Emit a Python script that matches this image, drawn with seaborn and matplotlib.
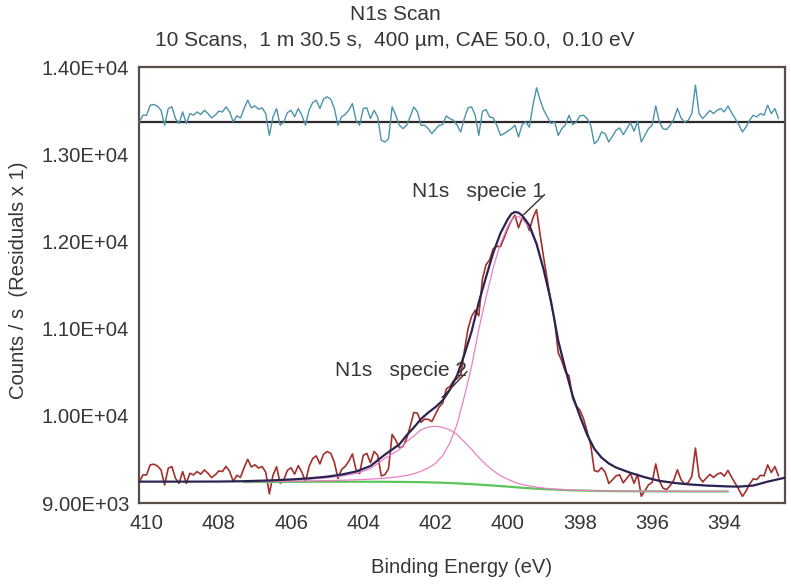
import numpy as np
import pandas as pd
import matplotlib
matplotlib.use("Agg")
import matplotlib.pyplot as plt
from matplotlib.ticker import MultipleLocator, FuncFormatter
import seaborn as sns

# ---------------- data ----------------
title_line1 = "N1s Scan"
title_line2 = "10 Scans,  1 m 30.5 s,  400 \u00b5m, CAE 50.0,  0.10 eV"
x_label = "Binding Energy (eV)"
y_label = "Counts / s  (Residuals x 1)"
x_ticks = [410, 408, 406, 404, 402, 400, 398, 396, 394]
y_ticks = [9000, 10000, 11000, 12000, 13000, 14000]
peak_labels = ["N1s   specie 1", "N1s   specie 2"]

# raw spectrum, 0.1 eV steps from 410.2 eV down to 392.5 eV
raw_be = np.linspace(410.2, 392.5, 178)
raw_counts = [
    9245, 9322, 9322, 9437, 9445, 9425, 9379, 9207, 9399, 9418,
    9283, 9226, 9360, 9226, 9341, 9322, 9360, 9330, 9379, 9341,
    9291, 9322, 9368, 9361, 9420, 9362, 9248, 9317, 9295, 9404,
    9501, 9413, 9438, 9401, 9417, 9353, 9105, 9318, 9416, 9226,
    9266, 9375, 9404, 9331, 9429, 9355, 9242, 9417, 9510, 9540,
    9448, 9559, 9590, 9569, 9468, 9282, 9384, 9420, 9478, 9563,
    9380, 9339, 9547, 9569, 9462, 9591, 9548, 9311, 9325, 9392,
    9787, 9720, 9634, 9647, 9738, 9878, 10038, 10030, 9926, 9962,
    9960, 9934, 10016, 10100, 10146, 10307, 10337, 10401, 10427, 10468,
    10741, 10994, 11139, 11210, 11147, 11568, 11732, 11788, 11916, 11944,
    11940, 12039, 12146, 12238, 12300, 12156, 12267, 12241, 12125, 12270,
    12364, 12071, 11805, 11550, 11294, 11095, 10723, 10628, 10502, 10458,
    10198, 10112, 10065, 9967, 9822, 9664, 9371, 9359, 9405, 9353,
    9224, 9265, 9311, 9323, 9231, 9284, 9338, 9226, 9328, 9078,
    9141, 9208, 9236, 9448, 9254, 9171, 9154, 9199, 9262, 9381,
    9268, 9218, 9233, 9307, 9630, 9302, 9241, 9285, 9329, 9293,
    9329, 9347, 9307, 9374, 9296, 9227, 9157, 9076, 9136, 9216,
    9277, 9269, 9318, 9311, 9437, 9350, 9418, 9311,
]
residuals = [
    0, 77, 77, 192, 200, 180, 134, -38, 154, 173,
    38, -19, 115, -19, 96, 77, 115, 85, 134, 96,
    46, 77, 123, 115, 173, 115, 0, 69, 46, 154,
    250, 161, 184, 146, 161, 96, -154, 58, 154, -38,
    0, 107, 134, 58, 154, 77, -38, 134, 223, 250,
    154, 261, 288, 261, 154, -38, 58, 85, 134, 211,
    19, -38, 154, 161, 38, 134, 58, -211, -230, -192,
    173, 77, -38, -77, -38, 58, 173, 115, -38, -38,
    -77, -134, -84, -38, -31, 69, 38, 19, -38, -115,
    40, 161, 173, 77, -154, 123, 142, 58, 46, -38,
    -154, -134, -107, -77, -38, -173, -31, 0, -60, 192,
    392, 250, 134, 58, -19, 0, -154, -77, -31, 77,
    -31, 0, 69, 77, 38, -38, -250, -211, -115, -134,
    -230, -165, -96, -69, -146, -77, -8, -107, 8, -230,
    -154, -77, -38, 184, 0, -77, -88, -38, 31, 154,
    46, 0, 19, 96, 422, 96, 38, 85, 131, 96,
    134, 154, 115, 184, 107, 38, -31, -115, -58, 19,
    77, 58, 96, 77, 192, 96, 154, 38,
]

# fitted envelope
fit_be = [410.2, 409.0, 408.0, 407.3, 406.5, 406.0, 405.5, 405.0, 404.6, 404.2,
          403.8, 403.4, 403.0, 402.8, 402.6, 402.4, 402.2, 402.0, 401.8, 401.6,
          401.4, 401.2, 401.0, 400.8, 400.6, 400.4, 400.2, 400.0, 399.9, 399.8,
          399.7, 399.6, 399.4, 399.2, 399.0, 398.8, 398.6, 398.4, 398.2, 398.0,
          397.8, 397.6, 397.4, 397.2, 397.0, 396.6, 396.2, 395.8, 395.4, 395.0,
          394.5, 393.9, 393.6, 393.2, 392.8, 392.3]
envelope = [9245, 9245, 9246, 9250, 9260, 9270, 9283, 9302, 9326, 9361,
            9424, 9555, 9672, 9776, 9865, 9964, 10037, 10100, 10177, 10299,
            10465, 10701, 10966, 11301, 11590, 11870, 12094, 12253, 12315, 12338,
            12329, 12298, 12185, 11972, 11671, 11313, 10860, 10533, 10229, 9996,
            9784, 9621, 9520, 9454, 9407, 9346, 9295, 9254, 9231, 9214,
            9200, 9190, 9188, 9200, 9245, 9292]

# fit region: Shirley background and the two component heights above it
region_be = [407.3, 406.5, 406.0, 405.5, 405.0, 404.6, 404.2,
             403.8, 403.4, 403.0, 402.8, 402.6, 402.4, 402.2, 402.0, 401.8, 401.6,
             401.4, 401.2, 401.0, 400.8, 400.6, 400.4, 400.2, 400.0, 399.9, 399.8,
             399.7, 399.6, 399.4, 399.2, 399.0, 398.8, 398.6, 398.4, 398.2, 398.0,
             397.8, 397.6, 397.4, 397.2, 397.0, 396.6, 396.2, 395.8, 395.4, 395.0,
             394.5, 393.9]
background = [9240, 9242, 9243, 9244, 9244, 9244, 9244,
              9244, 9243, 9242, 9241, 9240, 9239, 9237, 9235, 9232, 9229,
              9225, 9221, 9216, 9211, 9205, 9200, 9194, 9188, 9185, 9181,
              9178, 9175, 9169, 9164, 9159, 9155, 9151, 9148, 9145, 9143,
              9141, 9139, 9138, 9137, 9136, 9135, 9134, 9133, 9133, 9132,
              9132, 9132]
specie1_height = [3, 5, 7, 9, 13, 17, 22,
                  30, 42, 60, 75, 95, 125, 165, 220, 310, 460,
                  680, 1000, 1350, 1780, 2150, 2500, 2780, 2980, 3060, 3100,
                  3105, 3085, 2990, 2790, 2500, 2150, 1720, 1380, 1080, 850,
                  640, 480, 380, 315, 270, 210, 160, 120, 98, 82,
                  68, 58]
specie2_height = [7, 13, 20, 30, 45, 65, 95,
                  150, 270, 370, 460, 530, 600, 635, 645, 635, 610,
                  560, 480, 400, 310, 235, 170, 120, 85, 70, 57,
                  46, 38, 26, 18, 12, 8, 6, 5, 4, 3,
                  3, 2, 2, 2, 1, 1, 1, 1, 1, 1,
                  1, 1]

# ---------------- styling ----------------
W, H, DPI = 791, 587, 100
RESID_OFFSET = 13370
TXT = "#3a3535"
SPINE = "#5a4d48"
FS = 14.6

sns.set_style("white")
plt.rcParams["font.family"] = ["Liberation Sans", "DejaVu Sans"]

fig = plt.figure(figsize=(W / DPI, H / DPI), dpi=DPI)
ax = fig.add_axes([139 / W, 1 - 503 / H, (785 - 139) / W, (503 - 67) / H])

raw_df = pd.DataFrame({"be": raw_be, "counts": raw_counts,
                       "resid": RESID_OFFSET + np.asarray(residuals)})
fit_df = pd.DataFrame({"be": fit_be, "env": envelope})
bg_arr = np.asarray(background)
reg_df = pd.DataFrame({"be": region_be, "bg": bg_arr,
                       "c1": bg_arr + np.asarray(specie1_height),
                       "c2": bg_arr + np.asarray(specie2_height)})

# residual zero line and residuals
ax.axhline(RESID_OFFSET, color="#2e2828", lw=1.6, zorder=2)
sns.lineplot(data=raw_df, x="be", y="resid", ax=ax, color="#4b93ab",
             lw=1.0, errorbar=None, zorder=3)

# raw data
sns.lineplot(data=raw_df, x="be", y="counts", ax=ax, color="#a3302c",
             lw=1.2, errorbar=None, zorder=3)
# background and components
sns.lineplot(data=reg_df, x="be", y="bg", ax=ax, color="#5cc45a",
             lw=1.6, errorbar=None, zorder=4)
sns.lineplot(data=reg_df, x="be", y="c1", ax=ax, color="#ea80c8",
             lw=0.9, errorbar=None, zorder=4)
sns.lineplot(data=reg_df, x="be", y="c2", ax=ax, color="#ea80c8",
             lw=0.9, errorbar=None, zorder=4)
# envelope
sns.lineplot(data=fit_df, x="be", y="env", ax=ax, color="#2b2452",
             lw=1.6, errorbar=None, zorder=5)

# peak labels with leader lines
ax.text(402.65, 12570, peak_labels[0], ha="left", va="center",
        fontsize=FS + 0.4, color=TXT, zorder=6)
ax.annotate("", xy=(399.61, 12287), xytext=(398.92, 12560),
            arrowprops=dict(arrowstyle="-", color="#3a3030", lw=1.0), zorder=6)
ax.text(404.78, 10521, peak_labels[1], ha="left", va="center",
        fontsize=FS + 0.4, color=TXT, zorder=6)
ax.annotate("", xy=(401.87, 10187), xytext=(401.07, 10532),
            arrowprops=dict(arrowstyle="-", color="#3a3030", lw=1.0), zorder=6)

# axes
ax.set_xlim(410.21, 392.32)
ax.set_ylim(9000, 14000)
ax.set_xticks(x_ticks)
ax.set_yticks(y_ticks)
ax.xaxis.set_minor_locator(MultipleLocator(1))
ax.yaxis.set_minor_locator(MultipleLocator(500))
ax.yaxis.set_major_formatter(FuncFormatter(lambda v, p: f"{v:.2E}"))
ax.tick_params(axis="both", which="both", direction="inout", length=8,
               width=1.3, color=SPINE, labelcolor=TXT, labelsize=FS)
ax.tick_params(axis="x", which="both", pad=4)
ax.tick_params(axis="y", which="both", pad=3)
for s in ax.spines.values():
    s.set_visible(True)
    s.set_color(SPINE)
    s.set_linewidth(1.6)
ax.set_xlabel(x_label, fontsize=FS, color=TXT)
ax.set_ylabel(y_label, fontsize=FS, color=TXT)
ax.xaxis.set_label_coords(0.5, -0.127)
ax.yaxis.set_label_coords(-0.172, 0.51)

fig.text(395 / W, 1 - 15 / H, title_line1, ha="center", va="center",
         fontsize=FS + 0.4, color=TXT)
fig.text(395 / W, 1 - 41 / H, title_line2, ha="center", va="center",
         fontsize=FS + 0.4, color=TXT)

fig.savefig("out.png", dpi=DPI)
